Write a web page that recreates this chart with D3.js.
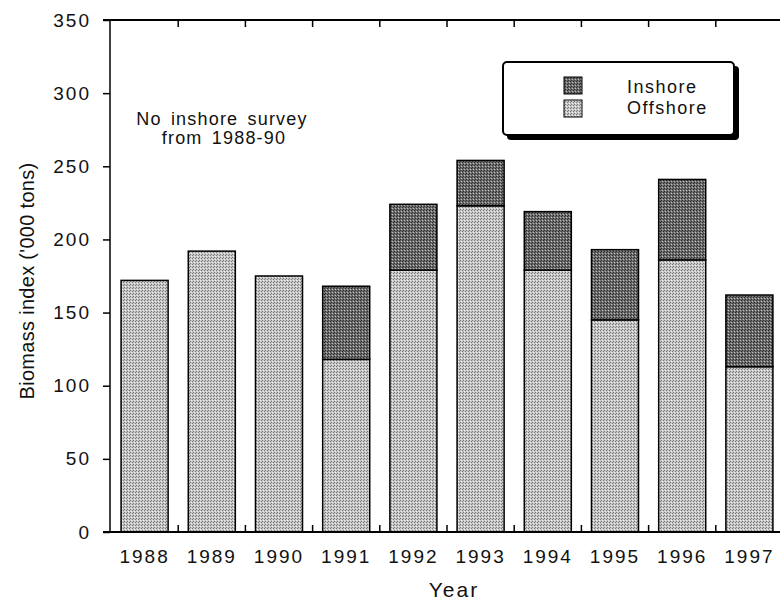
<!DOCTYPE html>
<html><head><meta charset="utf-8">
<script src="https://cdn.jsdelivr.net/npm/d3@7"></script>
<style>body{margin:0;background:#fff}svg{display:block}text{font-family:"Liberation Sans",Arial,sans-serif;fill:#111}</style>
</head><body><svg id="c" width="780" height="604"></svg>
<script>
const years = ["1988","1989","1990","1991","1992","1993","1994","1995","1996","1997"];
const offshore = [172,192,175,118,179,223,179,145,186,113];
const inshore  = [0,0,0,50,45,31,40,48,55,49];
const yTicks = [0,50,100,150,200,250,300,350];
const seriesNames = ["Inshore","Offshore"];

const svg = d3.select("#c");
const defs = svg.append("defs");
function stipple(id, base, dot, dot2){
  const p = defs.append("pattern").attr("id",id).attr("width",3).attr("height",3).attr("patternUnits","userSpaceOnUse");
  p.append("rect").attr("width",3).attr("height",3).attr("fill",base);
  p.append("rect").attr("x",0).attr("y",0).attr("width",1).attr("height",1).attr("fill",dot);
  p.append("rect").attr("x",2).attr("y",1).attr("width",1).attr("height",1).attr("fill",dot2);
  p.append("rect").attr("x",1).attr("y",2).attr("width",1).attr("height",1).attr("fill",dot);
}
stipple("off","#c6c6c6","#7a7a7a","#f0f0f0");
stipple("in","#6e6e6e","#2e2e2e","#bcbcbc");

const x = d3.scaleBand().domain(years).range([111,783]).paddingInner(0.3).paddingOuter(0.15);
const y = d3.scaleLinear().domain([0,350]).range([532,20]);

const data = years.map((yr,i)=>({yr, off:offshore[i], ins:inshore[i]}));
const stack = d3.stack().keys(["off","ins"])(data);
const fills = {off:"url(#off)", ins:"url(#in)"};

const g = svg.append("g");
stack.forEach(layer=>{
  g.selectAll(null).data(layer.filter(d=>d[1]-d[0]>0)).enter().append("rect")
    .attr("x",d=>x(d.data.yr)).attr("width",x.bandwidth())
    .attr("y",d=>y(d[1])).attr("height",d=>y(d[0])-y(d[1]))
    .attr("fill",fills[layer.key]).attr("stroke","#000").attr("stroke-width",1.5);
});

// axes
const bounds = years.slice(1).map((yr)=>x(yr)-x.step()*x.paddingInner()/2);
svg.append("line").attr("x1",103).attr("x2",780).attr("y1",y(0)).attr("y2",y(0)).attr("stroke","#000").attr("stroke-width",2);
svg.append("line").attr("x1",103).attr("x2",780).attr("y1",y(350)).attr("y2",y(350)).attr("stroke","#000").attr("stroke-width",2);
svg.append("line").attr("x1",110).attr("x2",110).attr("y1",y(0)).attr("y2",y(350)).attr("stroke","#000").attr("stroke-width",1.5);
bounds.forEach(b=>{
  svg.append("line").attr("x1",b).attr("x2",b).attr("y1",y(0)).attr("y2",y(0)-7).attr("stroke","#000").attr("stroke-width",1.5);
  svg.append("line").attr("x1",b).attr("x2",b).attr("y1",y(350)).attr("y2",y(350)+7).attr("stroke","#000").attr("stroke-width",1.5);
});
const yAxis = d3.axisLeft(y).tickValues(yTicks).tickSize(7).tickPadding(12);
const ya = svg.append("g").attr("transform","translate(110,0)").call(yAxis);
ya.select(".domain").remove();
ya.selectAll("line").attr("stroke-width",1.5);
ya.selectAll("text").style("font-size","19px").style("letter-spacing","2px").attr("fill","#111");

const xAxis = d3.axisBottom(x).tickSize(0).tickPadding(18);
const xa = svg.append("g").attr("transform",`translate(0,${y(0)})`).call(xAxis);
xa.select(".domain").remove();
xa.selectAll("text").style("font-size","19px").style("letter-spacing","2px").attr("fill","#111");

svg.append("text").attr("x",454).attr("y",597).attr("text-anchor","middle").style("font-size","21px").style("letter-spacing","2px").text("Year");
svg.append("text").attr("transform","translate(34,281) rotate(-90)").attr("text-anchor","middle").style("font-size","20px").style("letter-spacing","0.3px").text("Biomass index ('000 tons)");

svg.append("text").attr("x",222).attr("y",125).attr("text-anchor","middle").style("font-size","18px").style("letter-spacing","1.2px").style("word-spacing","3px").text("No inshore survey");
svg.append("text").attr("x",224).attr("y",144).attr("text-anchor","middle").style("font-size","18px").style("letter-spacing","1.2px").style("word-spacing","3px").text("from  1988-90");

// legend
const lg = svg.append("g");
lg.append("rect").attr("x",507).attr("y",66).attr("width",232).attr("height",74).attr("rx",4).attr("fill","#000");
lg.append("rect").attr("x",503).attr("y",62).attr("width",231).attr("height",73).attr("rx",4).attr("fill","#fff").attr("stroke","#000").attr("stroke-width",2);
const legKeys = ["in","off"];
seriesNames.forEach((n,i)=>{
  lg.append("rect").attr("x",564).attr("y",77+i*23).attr("width",18).attr("height",17).attr("fill",`url(#${legKeys[i]})`).attr("stroke","#000").attr("stroke-width",1);
  lg.append("text").attr("x",627).attr("y",93+i*21).style("font-size","18px").style("letter-spacing","1.5px").text(n);
});
</script></body></html>
